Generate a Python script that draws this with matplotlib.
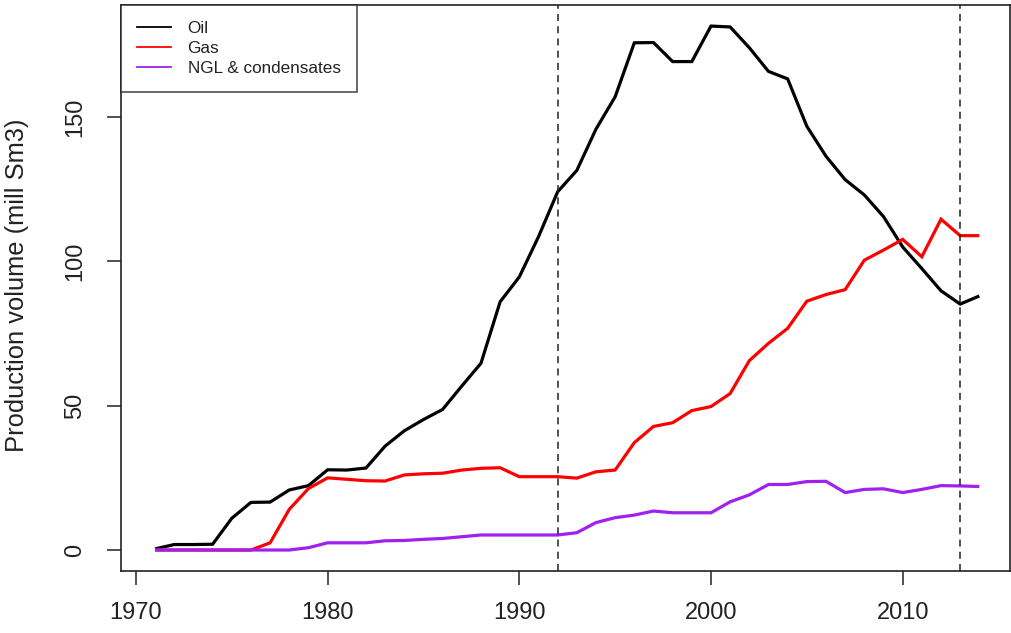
import matplotlib
matplotlib.use("Agg")
import matplotlib.pyplot as plt
from matplotlib.lines import Line2D

plt.rcParams['font.family'] = ['Liberation Sans', 'DejaVu Sans']

years = list(range(1971, 2015))

oil = [0.4, 1.9, 1.9, 2.0, 11.0, 16.5, 16.6, 20.8, 22.3, 27.8,
       27.7, 28.4, 36.0, 41.3, 45.2, 48.7, 56.8, 64.7, 86.0, 94.6,
       108.5, 124.1, 131.5, 145.8, 157.0, 175.7, 175.8, 169.2, 169.2, 181.5,
       181.2, 174.0, 165.8, 163.2, 146.8, 136.4, 128.3, 123.0, 115.5, 105.0,
       97.5, 89.8, 85.2, 88.0]

gas = [0.0, 0.0, 0.0, 0.0, 0.0, 0.0, 2.5, 14.1, 21.3, 25.0,
       24.5, 24.0, 23.9, 26.0, 26.4, 26.6, 27.7, 28.3, 28.5, 25.4,
       25.4, 25.4, 24.9, 27.1, 27.7, 37.2, 42.8, 44.1, 48.3, 49.7,
       54.2, 65.6, 71.6, 76.8, 86.2, 88.5, 90.2, 100.4, 103.9, 107.6,
       101.6, 114.6, 108.9, 108.9]

ngl = [0.0, 0.0, 0.0, 0.0, 0.0, 0.0, 0.0, 0.0, 0.8, 2.5,
       2.5, 2.5, 3.2, 3.3, 3.7, 4.0, 4.6, 5.2, 5.2, 5.2,
       5.2, 5.2, 6.0, 9.5, 11.2, 12.1, 13.5, 12.9, 12.9, 12.9,
       16.7, 19.1, 22.7, 22.7, 23.7, 23.8, 19.9, 21.0, 21.2, 19.9,
       21.0, 22.3, 22.2, 22.0]

series_names = ["Oil", "Gas", "NGL & condensates"]
series_colors = ["black", "#FF0000", "#A020F0"]
marker_years = [1992, 2013]

x_ticks = [1970, 1980, 1990, 2000, 2010]
y_ticks = [0, 50, 100, 150]

W, H = 1011, 633
fig = plt.figure(figsize=(W / 100, H / 100), dpi=100)
ax = fig.add_axes([121 / W, 1 - 571 / H, (1010 - 121) / W, (571 - 5) / H])

for vals, col in zip([oil, gas, ngl], series_colors):
    ax.plot(years, vals, color=col, lw=2.3, solid_joinstyle='miter',
            solid_capstyle='butt')

for yr in marker_years:
    ax.axvline(yr, color="#222222", lw=1.1, linestyle=(0, (4.6, 3.4)))

ax.set_xlim(1969.22, 2015.6)
ax.set_ylim(-7.27, 188.8)

ax.set_xticks(x_ticks)
ax.set_xticklabels([str(t) for t in x_ticks])
ax.set_yticks(y_ticks)
ax.set_yticklabels([str(t) for t in y_ticks], rotation=90, va='center')

ax.tick_params(axis='both', direction='out', length=10, width=1.1,
               color="#222222", labelsize=17, labelcolor="#222222")
ax.tick_params(axis='x', pad=12)
ax.tick_params(axis='y', pad=15)

for sp in ax.spines.values():
    sp.set_linewidth(1.2)
    sp.set_color("#222222")

fig.text(17 / W, 1 - 285 / H, "Production volume (mill Sm3)", rotation=90,
         ha='center', va='center', fontsize=18.4, color="#222222")

handles = [Line2D([], [], color=c, lw=1.3) for c in series_colors]
leg = ax.legend(handles, series_names, loc='upper left',
                bbox_to_anchor=(0, 1), borderaxespad=0, fontsize=12.3,
                frameon=True, fancybox=False, edgecolor="#222222",
                handlelength=2.0, handletextpad=0.95, borderpad=0.95,
                labelspacing=0.28)
leg.get_frame().set_linewidth(1.2)
for t in leg.get_texts():
    t.set_color("#222222")

fig.savefig("out.png", dpi=100)
